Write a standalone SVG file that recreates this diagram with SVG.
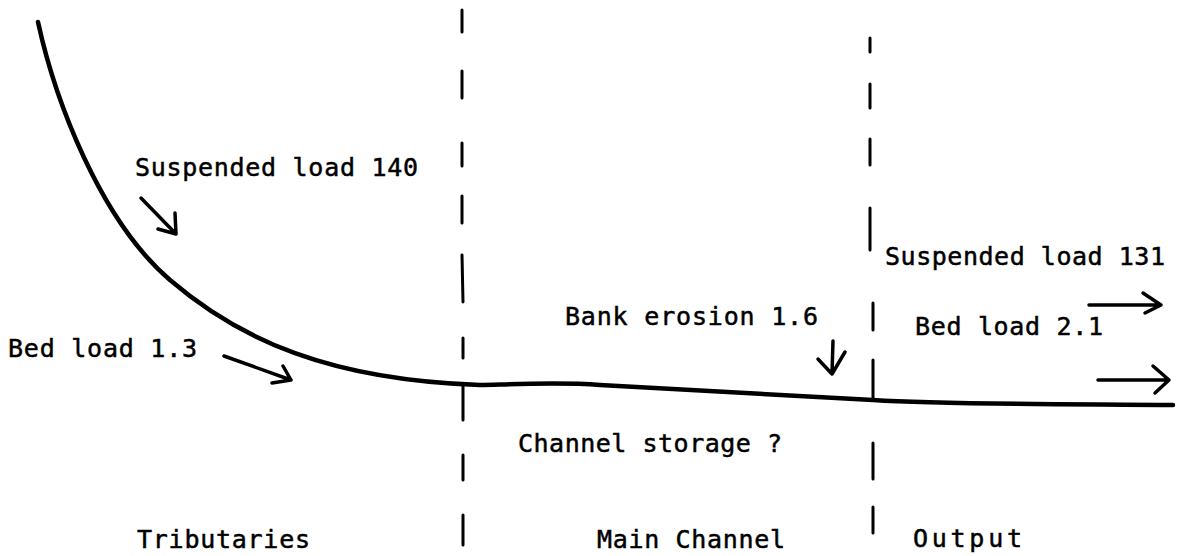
<svg xmlns="http://www.w3.org/2000/svg" width="1181" height="556" viewBox="0 0 1181 556">
  <style>
    .lbl { font-family: "DejaVu Sans Mono", "Liberation Mono", monospace; font-size: 25px; fill: #000; stroke: #000; stroke-width: 0.5; }
    .profile { fill: none; stroke: #000; stroke-width: 4.5; stroke-linecap: round; stroke-linejoin: round; }
    .dash { stroke: #000; stroke-width: 3; stroke-linecap: round; }
    .arrow { fill: none; stroke: #000; stroke-width: 3.5; stroke-linecap: round; stroke-linejoin: round; }
  </style>
  <rect width="1181" height="556" fill="#fff"/>

  <!-- long profile of the river bed -->
  <g id="profile">
    <path class="profile" d="M38,22 C55,100 100,220 170,280 C240,340 330,380 480,385 C520,384 560,382 600,385 L873,400 C950,405 1100,404 1173,405"/>
  </g>

  <!-- section boundaries -->
  <g id="boundary-left">
    <line class="dash" x1="462" y1="10" x2="462" y2="32"/>
    <line class="dash" x1="462" y1="71" x2="462" y2="98"/>
    <line class="dash" x1="462" y1="143" x2="462" y2="166"/>
    <line class="dash" x1="462" y1="196" x2="462" y2="223"/>
    <line class="dash" x1="462" y1="255" x2="463" y2="302"/>
    <line class="dash" x1="463" y1="338" x2="463" y2="358"/>
    <line class="dash" x1="463" y1="386" x2="463" y2="420"/>
    <line class="dash" x1="463" y1="455" x2="463" y2="480"/>
    <line class="dash" x1="463" y1="515" x2="463" y2="545"/>
  </g>
  <g id="boundary-right">
    <line class="dash" x1="870" y1="38" x2="870" y2="52"/>
    <line class="dash" x1="870" y1="84" x2="870" y2="108"/>
    <line class="dash" x1="870" y1="139" x2="870" y2="165"/>
    <line class="dash" x1="870" y1="208" x2="870" y2="250"/>
    <line class="dash" x1="873" y1="303" x2="873" y2="330"/>
    <line class="dash" x1="873" y1="360" x2="873" y2="400"/>
    <line class="dash" x1="873" y1="443" x2="873" y2="479"/>
    <line class="dash" x1="873" y1="507" x2="873" y2="533"/>
  </g>

  <!-- sediment inputs and outputs -->
  <g id="connectors">
    <path class="arrow" d="M141,198 L176,234 M158,229 L176,234 L175,213"/>
    <path class="arrow" d="M224,356 L291,380 M272,383 L291,380 L283,366"/>
    <path class="arrow" d="M833,341 L832,374 M818,359 L832,374 L845,352"/>
    <path class="arrow" d="M1089,305 L1161,305 M1143,293 L1161,305 L1145,313"/>
    <path class="arrow" d="M1098,380 L1169,380 M1153,366 L1169,380 L1155,393"/>
  </g>

  <g id="suspended-in"><text class="lbl" x="135" y="176" textLength="283">Suspended load 140</text></g>
  <g id="bed-in"><text class="lbl" x="8" y="357" textLength="189">Bed load 1.3</text></g>
  <g id="bank-erosion"><text class="lbl" x="565" y="325" textLength="253">Bank erosion 1.6</text></g>
  <g id="storage"><text class="lbl" x="518" y="452" textLength="264">Channel storage ?</text></g>
  <g id="suspended-out"><text class="lbl" x="885" y="265" textLength="280">Suspended load 131</text></g>
  <g id="bed-out"><text class="lbl" x="915" y="335" textLength="188">Bed load 2.1</text></g>
  <g id="tributaries"><text class="lbl" x="137" y="548" textLength="173">Tributaries</text></g>
  <g id="main-channel"><text class="lbl" x="597" y="548" textLength="188">Main Channel</text></g>
  <g id="output"><text class="lbl" x="913" y="547" textLength="109">Output</text></g>
</svg>
